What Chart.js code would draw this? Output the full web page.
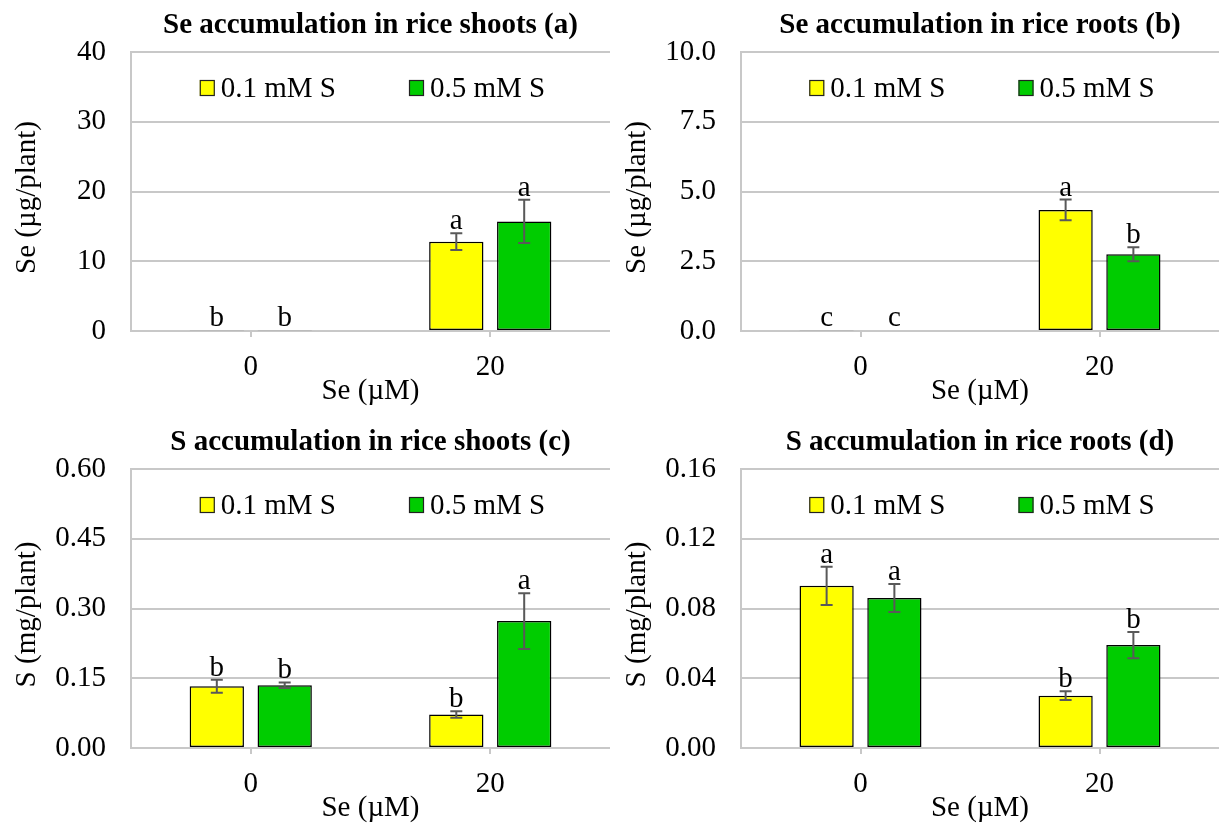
<!DOCTYPE html>
<html>
<head>
<meta charset="utf-8">
<script src="https://cdn.jsdelivr.net/npm/chart.js@4.4.1/dist/chart.umd.min.js"></script>
<style>
  html, body { margin: 0; padding: 0; background: #fff; }
  body { width: 1219px; height: 825px; position: relative; overflow: hidden; }
  .panel { position: absolute; }
</style>
</head>
<body>
<div class="panel" style="left:0px;top:0px"><canvas id="chartA" width="610" height="412"></canvas></div>
<div class="panel" style="left:610px;top:0px"><canvas id="chartB" width="609" height="412"></canvas></div>
<div class="panel" style="left:0px;top:417px"><canvas id="chartC" width="610" height="412"></canvas></div>
<div class="panel" style="left:610px;top:417px"><canvas id="chartD" width="609" height="412"></canvas></div>
<script>
// categories and series
const seLevels = ['0', '20'];
const seriesNames = ['0.1 mM S', '0.5 mM S'];
const seriesColors = ['#FFFF00', '#00CC00'];

// (a) Se in shoots, ug/plant
const shootSeLow = [0.12, 12.8];
const shootSeHigh = [0.12, 15.7];
const shootSeLowErr = [0, 1.2];
const shootSeHighErr = [0, 3.1];
const shootSeLowLetters = ['b', 'a'];
const shootSeHighLetters = ['b', 'a'];

// (b) Se in roots, ug/plant
const rootSeLow = [0.03, 4.34];
const rootSeHigh = [0.04, 2.75];
const rootSeLowErr = [0, 0.37];
const rootSeHighErr = [0, 0.25];
const rootSeLowLetters = ['c', 'a'];
const rootSeHighLetters = ['c', 'b'];

// (c) S in shoots, mg/plant
const shootSLow = [0.133, 0.072];
const shootSHigh = [0.135, 0.273];
const shootSLowErr = [0.014, 0.007];
const shootSHighErr = [0.006, 0.06];
const shootSLowLetters = ['b', 'b'];
const shootSHighLetters = ['b', 'a'];

// (d) S in roots, mg/plant
const rootSLow = [0.093, 0.030];
const rootSHigh = [0.086, 0.059];
const rootSLowErr = [0.011, 0.0025];
const rootSHighErr = [0.008, 0.0075];
const rootSLowLetters = ['a', 'b'];
const rootSHighLetters = ['a', 'b'];

const serif = '"Liberation Serif", "Times New Roman", serif';
const gridGray = '#c8c8c8';
Chart.defaults.font.family = serif;
Chart.defaults.color = '#000';

// panel title centred over the plot area, and the y axis title
const panelTitle = {
    id: 'panelTitle',
    afterDraw(chart, args, opts) {
        const ctx = chart.ctx;
        const area = chart.chartArea;
        ctx.save();
        ctx.font = 'bold 29px ' + serif;
        ctx.fillStyle = '#000';
        ctx.textAlign = 'center';
        ctx.textBaseline = 'middle';
        ctx.fillText(opts.text, (area.left + area.right) / 2, 26);
        ctx.font = '29px ' + serif;
        ctx.translate(27, (area.top + area.bottom) / 2 + 6);
        ctx.rotate(-Math.PI / 2);
        ctx.fillText(opts.yText, 0, 0);
        ctx.restore();
    }
};

// legend drawn inside the plot area
const innerLegend = {
    id: 'innerLegend',
    afterDraw(chart) {
        const ctx = chart.ctx;
        const area = chart.chartArea;
        const sets = chart.data.datasets;
        const box = 15, gapText = 6, gapItem = 73;
        ctx.save();
        ctx.font = '29px ' + serif;
        const widths = sets.map(d => box + gapText + ctx.measureText(d.label).width);
        const total = widths.reduce((a, b) => a + b, 0) + gapItem * (sets.length - 1);
        let x = (area.left + area.right) / 2 - total / 2 + 2;
        const y = area.top + 36;
        sets.forEach((d, i) => {
            ctx.fillStyle = d.backgroundColor;
            ctx.fillRect(x, y - 8, box, 16);
            ctx.strokeStyle = '#222';
            ctx.lineWidth = 1.2;
            ctx.strokeRect(x + 0.5, y - 7.5, box - 1, 15);
            ctx.fillStyle = '#000';
            ctx.textAlign = 'left';
            ctx.textBaseline = 'middle';
            ctx.fillText(d.label, x + box + gapText, y + 1);
            x += widths[i] + gapItem;
        });
        ctx.restore();
    }
};

// error bars and significance letters
const errorBars = {
    id: 'errorBars',
    afterDatasetsDraw(chart) {
        const ctx = chart.ctx;
        const yScale = chart.scales.y;
        ctx.save();
        chart.data.datasets.forEach((d, i) => {
            const meta = chart.getDatasetMeta(i);
            meta.data.forEach((bar, j) => {
                const v = d.data[j];
                const e = d.errors[j];
                const top = yScale.getPixelForValue(v + e);
                const bot = yScale.getPixelForValue(v - e);
                if (e > 0) {
                    ctx.strokeStyle = '#595959';
                    ctx.lineWidth = 2;
                    ctx.beginPath();
                    ctx.moveTo(bar.x, top);
                    ctx.lineTo(bar.x, bot);
                    ctx.moveTo(bar.x - 6, top);
                    ctx.lineTo(bar.x + 6, top);
                    ctx.moveTo(bar.x - 6, bot);
                    ctx.lineTo(bar.x + 6, bot);
                    ctx.stroke();
                }
                ctx.fillStyle = '#000';
                ctx.font = '29px ' + serif;
                ctx.textAlign = 'center';
                ctx.textBaseline = 'alphabetic';
                ctx.fillText(d.letters[j], bar.x, top - 4);
            });
        });
        ctx.restore();
    }
};

function drawPanel(id, title, yTitle, low, high, lowErr, highErr, lowLetters, highLetters, max, step, decimals) {
    const ctx = document.getElementById(id).getContext('2d');
    const datasets = [
        { label: seriesNames[0], data: low, errors: lowErr, letters: lowLetters, backgroundColor: seriesColors[0] },
        { label: seriesNames[1], data: high, errors: highErr, letters: highLetters, backgroundColor: seriesColors[1] }
    ];
    datasets.forEach(d => {
        d.borderColor = '#000';
        d.borderWidth = 1.5;
        d.borderSkipped = false;
        d.categoryPercentage = 0.567;
        d.barPercentage = 0.8;
    });
    return new Chart(ctx, {
        type: 'bar',
        data: { labels: seLevels, datasets: datasets },
        plugins: [panelTitle, innerLegend, errorBars],
        options: {
            responsive: false,
            animation: false,
            layout: { padding: { top: 52, left: 0, right: 0, bottom: 0 } },
            plugins: {
                legend: { display: false },
                tooltip: { enabled: false },
                panelTitle: { text: title, yText: yTitle }
            },
            scales: {
                x: {
                    afterFit: s => { s.height = 81; },
                    grid: { display: true, drawOnChartArea: false, drawTicks: true, tickLength: 6, offset: false, color: gridGray, lineWidth: 2 },
                    border: { color: gridGray, width: 2 },
                    ticks: { font: { size: 29 }, padding: 13, color: '#000' },
                    title: { display: true, text: 'Se (µM)', font: { size: 29 }, padding: { top: 0, bottom: 3 }, color: '#000' }
                },
                y: {
                    min: 0,
                    max: max,
                    afterFit: s => { s.width = 131; },
                    grid: { color: gridGray, lineWidth: 2, drawTicks: false },
                    border: { color: gridGray, width: 2 },
                    ticks: {
                        stepSize: step,
                        padding: 25,
                        font: { size: 29 },
                        color: '#000',
                        callback: v => Number(v).toFixed(decimals)
                    },
                    title: { display: false }
                }
            }
        }
    });
}

drawPanel('chartA', 'Se accumulation in rice shoots (a)', 'Se (µg/plant)',
    shootSeLow, shootSeHigh, shootSeLowErr, shootSeHighErr, shootSeLowLetters, shootSeHighLetters, 40, 10, 0);
drawPanel('chartB', 'Se accumulation in rice roots (b)', 'Se (µg/plant)',
    rootSeLow, rootSeHigh, rootSeLowErr, rootSeHighErr, rootSeLowLetters, rootSeHighLetters, 10, 2.5, 1);
drawPanel('chartC', 'S accumulation in rice shoots (c)', 'S (mg/plant)',
    shootSLow, shootSHigh, shootSLowErr, shootSHighErr, shootSLowLetters, shootSHighLetters, 0.6, 0.15, 2);
drawPanel('chartD', 'S accumulation in rice roots (d)', 'S (mg/plant)',
    rootSLow, rootSHigh, rootSLowErr, rootSHighErr, rootSLowLetters, rootSHighLetters, 0.16, 0.04, 2);
</script>
</body>
</html>
